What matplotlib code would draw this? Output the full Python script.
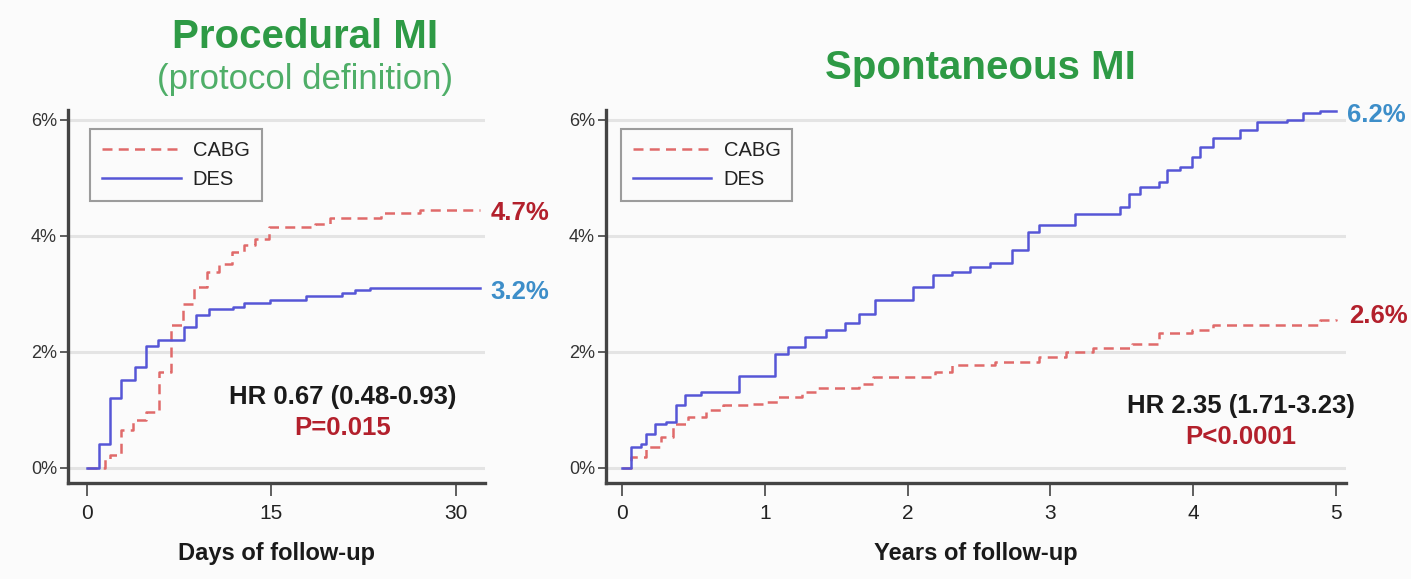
import matplotlib
matplotlib.use("Agg")
import matplotlib.pyplot as plt

plt.rcParams['font.family'] = ['Liberation Sans', 'DejaVu Sans']

# ---------------- data ----------------
# Procedural MI (days)
proc_des_days = [0, 1.0, 1.9, 2.8, 3.9, 4.8, 5.8, 7.9, 8.9, 9.9, 11.9, 12.8, 14.9, 17.8, 20.8, 21.8, 23.0, 32.0]
proc_des_pct = [0, 0.42, 1.2, 1.52, 1.74, 2.1, 2.21, 2.43, 2.63, 2.74, 2.78, 2.84, 2.9, 2.97, 3.01, 3.06, 3.11, 3.11]
proc_cabg_days = [0, 1.46, 1.9, 2.77, 3.79, 4.8, 5.83, 6.85, 7.86, 8.74, 9.76, 10.78, 11.8, 12.8, 13.7, 14.86, 18.6, 19.8, 23.9, 27.1, 32.0]
proc_cabg_pct = [0, 0.15, 0.22, 0.65, 0.82, 0.97, 1.65, 2.46, 2.83, 3.12, 3.38, 3.52, 3.72, 3.84, 3.95, 4.16, 4.21, 4.31, 4.39, 4.45, 4.45]

# Spontaneous MI (years)
spon_des_yrs = [0, 0.06, 0.13, 0.17, 0.23, 0.31, 0.38, 0.44, 0.55, 0.71, 0.82, 0.99, 1.07, 1.16, 1.28, 1.43,
                1.56, 1.66, 1.77, 1.95, 2.04, 2.18, 2.31, 2.44, 2.58, 2.73, 2.84, 2.92, 3.05, 3.17, 3.34,
                3.49, 3.55, 3.63, 3.76, 3.82, 3.91, 3.99, 4.05, 4.14, 4.29, 4.33, 4.45, 4.66, 4.77, 4.89, 5.0]
spon_des_pct = [0, 0.36, 0.42, 0.59, 0.76, 0.79, 1.08, 1.25, 1.31, 1.31, 1.58, 1.58, 1.97, 2.09, 2.26, 2.37,
                2.49, 2.66, 2.90, 2.90, 3.12, 3.32, 3.38, 3.47, 3.53, 3.75, 4.07, 4.18, 4.18, 4.37, 4.37,
                4.5, 4.73, 4.84, 4.93, 5.13, 5.19, 5.36, 5.53, 5.68, 5.68, 5.83, 5.96, 5.99, 6.12, 6.16, 6.16]
spon_cabg_yrs = [0, 0.06, 0.17, 0.27, 0.36, 0.46, 0.59, 0.71, 0.88, 0.99, 1.09, 1.26, 1.37, 1.66, 1.76, 1.97,
                 2.19, 2.31, 2.61, 2.92, 3.11, 3.3, 3.57, 3.76, 3.99, 4.14, 4.68, 4.89, 5.0]
spon_cabg_pct = [0, 0.19, 0.36, 0.53, 0.76, 0.88, 0.99, 1.08, 1.11, 1.14, 1.22, 1.31, 1.38, 1.44, 1.57, 1.57,
                 1.66, 1.77, 1.83, 1.91, 2.0, 2.06, 2.14, 2.32, 2.37, 2.46, 2.46, 2.55, 2.57]

yticks = [0, 2, 4, 6]
ytick_labels = ['0%', '2%', '4%', '6%']
proc_xticks = [0, 15, 30]
spon_xticks = [0, 1, 2, 3, 4, 5]

# ---------------- style ----------------
BG = '#fbfbfb'
RED_LINE = '#e06a6a'
BLUE_LINE = '#5656d6'
GREEN = '#2e9a45'
GREEN_LIGHT = '#4fae68'
DARK_RED = '#b3202c'
LBLUE = '#3d8ec9'
AXC = '#444444'
DASH = (0, (4, 2.5))

fig = plt.figure(figsize=(14.11, 5.79), dpi=100, facecolor=BG)

def style(ax, xticks, xlim):
    ax.set_facecolor(BG)
    ax.set_ylim(-0.26, 6.17)
    ax.set_xlim(*xlim)
    ax.set_yticks(yticks)
    ax.set_yticklabels(ytick_labels, fontsize=13, color='#333333')
    ax.set_xticks(xticks)
    ax.set_xticklabels([str(t) for t in xticks], fontsize=15, color='#222222')
    for s in ['top', 'right']:
        ax.spines[s].set_visible(False)
    for s in ['left', 'bottom']:
        ax.spines[s].set_color(AXC)
        ax.spines[s].set_linewidth(2.4)
    ax.tick_params(axis='y', length=6, width=1.2, color=AXC, pad=2)
    ax.tick_params(axis='x', length=9, width=1.2, color=AXC, pad=6)
    ax.grid(axis='y', color='#e4e4e4', linewidth=2.2)
    ax.set_axisbelow(True)

def legend(ax, x0):
    leg = ax.legend(loc='upper left', bbox_to_anchor=(x0, 0.95), frameon=True,
                    fancybox=False, edgecolor='#858585', handlelength=3.9, handletextpad=0.6,
                    borderpad=0.6, borderaxespad=0.0, labelspacing=0.5, prop={'size': 14.5})
    leg.get_frame().set_linewidth(1.5)
    leg.get_frame().set_facecolor(BG)
    for t in leg.get_texts():
        t.set_color('#222222')

# Left panel
ax1 = fig.add_axes([68/1411, 1 - 483/579, 417/1411, 373/579])
style(ax1, proc_xticks, (-1.54, 32.4))
ax1.step(proc_cabg_days, proc_cabg_pct, where='post', color=RED_LINE, lw=1.8,
         linestyle=DASH, label='CABG')
ax1.step(proc_des_days, proc_des_pct, where='post', color=BLUE_LINE, lw=1.8, label='DES')
ax1.set_xlabel('Days of follow-up', fontsize=17, fontweight='bold', labelpad=14, color='#1a1a1a')
legend(ax1, 0.053)

# Right panel
ax2 = fig.add_axes([606/1411, 1 - 483/579, 740/1411, 373/579])
style(ax2, spon_xticks, (-0.112, 5.07))
ax2.step(spon_cabg_yrs, spon_cabg_pct, where='post', color=RED_LINE, lw=1.8,
         linestyle=DASH, label='CABG')
ax2.step(spon_des_yrs, spon_des_pct, where='post', color=BLUE_LINE, lw=1.8, label='DES')
ax2.set_xlabel('Years of follow-up', fontsize=17, fontweight='bold', labelpad=14, color='#1a1a1a')
legend(ax2, 0.02)

# Titles
fig.text(305/1411, 1 - 37/579, 'Procedural MI', ha='center', va='center',
         fontsize=29, fontweight='bold', color=GREEN)
fig.text(305/1411, 1 - 80/579, '(protocol definition)', ha='center', va='center',
         fontsize=25, color=GREEN_LIGHT)
fig.text(980/1411, 1 - 68/579, 'Spontaneous MI', ha='center', va='center',
         fontsize=29, fontweight='bold', color=GREEN)

# End labels
fig.text(520/1411, 1 - 213/579, '4.7%', ha='center', va='center', fontsize=18.5,
         fontweight='bold', color=DARK_RED)
fig.text(520/1411, 1 - 292/579, '3.2%', ha='center', va='center', fontsize=18.5,
         fontweight='bold', color=LBLUE)
fig.text(1376/1411, 1 - 115/579, '6.2%', ha='center', va='center', fontsize=18.5,
         fontweight='bold', color=LBLUE)
fig.text(1378/1411, 1 - 316/579, '2.6%', ha='center', va='center', fontsize=18.5,
         fontweight='bold', color=DARK_RED)

# HR annotations
fig.text(343/1411, 1 - 397/579, 'HR 0.67 (0.48-0.93)', ha='center', va='center',
         fontsize=18.5, fontweight='bold', color='#1a1a1a')
fig.text(343/1411, 1 - 428/579, 'P=0.015', ha='center', va='center',
         fontsize=18.5, fontweight='bold', color=DARK_RED)
fig.text(1241/1411, 1 - 406/579, 'HR 2.35 (1.71-3.23)', ha='center', va='center',
         fontsize=18.5, fontweight='bold', color='#1a1a1a')
fig.text(1241/1411, 1 - 437/579, 'P<0.0001', ha='center', va='center',
         fontsize=18.5, fontweight='bold', color=DARK_RED)

fig.savefig('out.png', dpi=100, facecolor=BG)
